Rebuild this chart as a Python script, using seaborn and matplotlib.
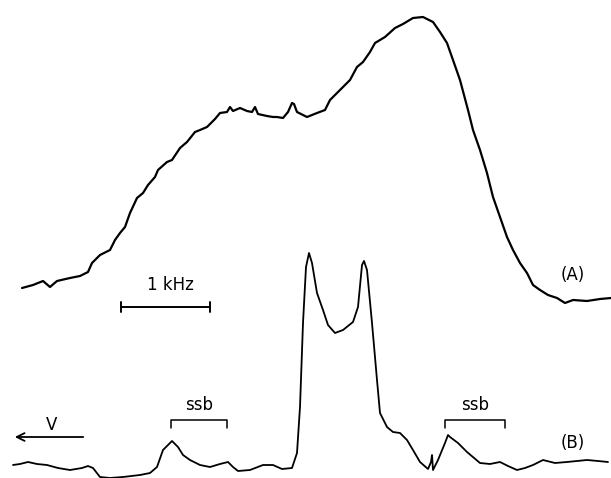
import matplotlib
matplotlib.use("Agg")
import matplotlib.pyplot as plt
import seaborn as sns
import pandas as pd

# Trace (A): static spectrum (x in px, height in px from bottom)
a_x = [22, 33, 43, 50, 57, 70, 80, 88, 92, 100, 110, 115, 120, 125, 130, 137, 143,
       148, 155, 158, 167, 172, 180, 187, 195, 200, 207, 215, 220, 227, 230, 233,
       240, 247, 252, 255, 258, 267, 273, 277, 283, 288, 292, 294, 297, 307, 317,
       325, 330, 340, 350, 357, 363, 370, 375, 385, 395, 403, 413, 423, 433, 440,
       447, 453, 460, 468, 473, 480, 487, 493, 500, 507, 513, 520, 527, 533, 540,
       548, 557, 565, 573, 587, 600, 611]
a_y = [288, 285, 281, 287, 281, 278, 276, 272, 263, 255, 250, 240, 233, 227, 213,
       198, 193, 185, 177, 170, 162, 160, 148, 142, 132, 130, 127, 119, 113, 112,
       107, 111, 108, 111, 112, 107, 114, 116, 117, 117, 118, 112, 103, 104, 112,
       117, 113, 110, 100, 90, 80, 67, 62, 52, 43, 37, 28, 24, 18, 17, 22, 32,
       43, 60, 80, 110, 130, 150, 173, 197, 217, 237, 250, 263, 273, 285, 290,
       295, 298, 303, 300, 301, 299, 298]

# Trace (B): MAS spectrum with spinning sidebands
b_x = [13, 20, 28, 37, 47, 58, 70, 82, 88, 93, 100, 110, 123, 140, 150, 157, 163,
       172, 178, 183, 190, 200, 210, 220, 228, 233, 238, 250, 263, 273, 282, 292,
       297, 300, 303, 306, 309, 312, 317, 323, 328, 335, 343, 353, 358, 362, 364,
       367, 372, 377, 380, 387, 393, 400, 407, 413, 420, 428, 431, 432, 433, 438,
       445, 448, 450, 458, 467, 480, 490, 500, 508, 517, 525, 533, 543, 555, 567,
       577, 587, 598, 608]
b_y = [465, 464, 462, 464, 465, 468, 470, 468, 466, 468, 477, 478, 477, 475, 473,
       467, 450, 441, 447, 455, 460, 465, 467, 464, 462, 467, 471, 470, 465, 465,
       469, 468, 453, 407, 323, 267, 253, 263, 293, 310, 325, 333, 330, 322, 307,
       265, 261, 270, 323, 380, 413, 427, 432, 433, 440, 450, 462, 469, 462, 455,
       470, 460, 443, 435, 437, 443, 452, 463, 464, 462, 466, 470, 468, 465, 460,
       463, 462, 461, 460, 461, 462]

W, H = 611, 478
df_a = pd.DataFrame({"x": a_x, "y": a_y})
df_b = pd.DataFrame({"x": b_x, "y": b_y})

sns.set_theme(style="white")
plt.rcParams["font.family"] = ["DejaVu Sans"]

fig = plt.figure(figsize=(W / 100, H / 100), dpi=100)
ax = fig.add_axes([0, 0, 1, 1])

sns.lineplot(data=df_a, x="x", y="y", sort=False, estimator=None,
             color="black", linewidth=1.6, ax=ax)
sns.lineplot(data=df_b, x="x", y="y", sort=False, estimator=None,
             color="black", linewidth=1.3, ax=ax)

ax.set_xlim(0, W)
ax.set_ylim(H, 0)
ax.axis("off")

txt = dict(color="black", fontsize=12, ha="center", va="center")

# 1 kHz scale bar
ax.plot([121, 210], [307, 307], color="black", lw=1.4)
ax.plot([121, 121], [302, 312], color="black", lw=1.4)
ax.plot([210, 210], [302, 312], color="black", lw=1.4)
ax.text(170, 285, "1 kHz", **txt)

# spinning sideband brackets
for x0, x1 in [(171, 227), (445, 505)]:
    ax.plot([x0, x0, x1, x1], [428, 420, 420, 428], color="black", lw=1.1)
    ax.text((x0 + x1) / 2, 405, "ssb", **txt)

# frequency direction arrow
ax.annotate("", xy=(12, 437), xytext=(86, 437),
            arrowprops=dict(arrowstyle="->", color="black", lw=1.3,
                            mutation_scale=14))
ax.text(52, 425, "V", **txt)

ax.text(573, 275, "(A)", **txt)
ax.text(573, 443, "(B)", **txt)

fig.savefig("out.png", dpi=100)
